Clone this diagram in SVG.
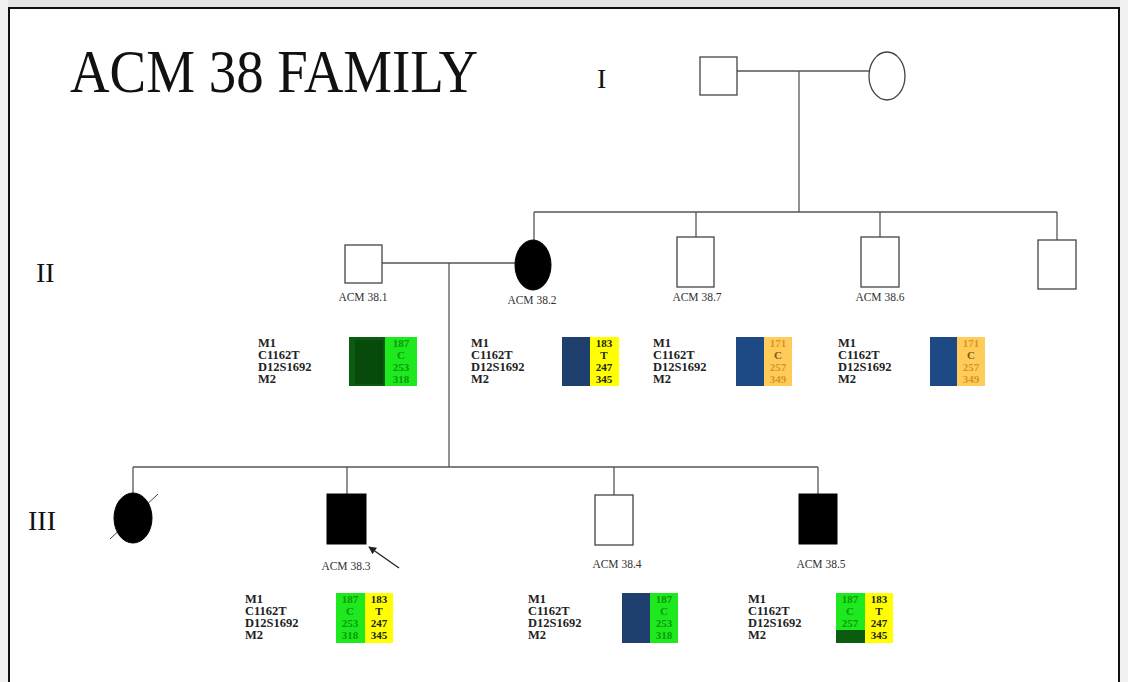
<svg xmlns="http://www.w3.org/2000/svg" width="1128" height="682" viewBox="0 0 1128 682">
<defs>
<style>
.ln{stroke:#555;stroke-width:1.3;fill:none}
.open{fill:#fff;stroke:#444;stroke-width:1.3}
.aff{fill:#000;stroke:#000;stroke-width:1}
.nm{font-family:"Liberation Serif",serif;font-size:11.5px;fill:#333;text-anchor:middle}
.mk{font-family:"Liberation Serif",serif;font-size:12.5px;font-weight:bold;fill:#222}
.v{font-family:"Liberation Serif",serif;font-size:11px;font-weight:bold;text-anchor:middle}
.gen{font-family:"Liberation Serif",serif;font-size:28px;fill:#111}
</style>
<marker id="ah" viewBox="0 0 10 10" refX="9" refY="5" markerWidth="6" markerHeight="6" orient="auto"><path d="M0,0 L10,5 L0,10 z" fill="#222"/></marker>
</defs>
<rect x="0" y="0" width="1128" height="682" fill="#fff"/>
<rect x="0" y="0" width="1128" height="7" fill="#e6e6e6"/>
<rect x="0" y="0" width="8" height="682" fill="#f0f0f0"/>
<rect x="1120" y="0" width="8" height="682" fill="#f0f0f0"/>
<path d="M9,682 V8 H1119 V682" fill="none" stroke="#111" stroke-width="2"/>

<text x="70" y="92" font-family="Liberation Serif,serif" font-size="62" fill="#111" textLength="408" lengthAdjust="spacingAndGlyphs">ACM 38 FAMILY</text>
<text class="gen" x="597" y="88">I</text>
<text class="gen" x="36" y="282">II</text>
<text class="gen" x="28" y="530">III</text>

<g id="connectors">
<path class="ln" d="M737,71 H869"/>
<path class="ln" d="M799,71 V212"/>
<path class="ln" d="M534,212 H1057"/>
<path class="ln" d="M534,212 V240"/>
<path class="ln" d="M696,212 V237"/>
<path class="ln" d="M880,212 V237"/>
<path class="ln" d="M1057,212 V240"/>
<path class="ln" d="M382,263 H515"/>
<path class="ln" d="M449,263 V467"/>
<path class="ln" d="M133,467 H818"/>
<path class="ln" d="M133,467 V493"/>
<path class="ln" d="M347,467 V494"/>
<path class="ln" d="M614,467 V495"/>
<path class="ln" d="M818,467 V494"/>
<path d="M399,568 L369,547" stroke="#222" stroke-width="1.3" marker-end="url(#ah)"/>
</g>

<g id="I-1"><rect class="open" x="700" y="57" width="37" height="38"/></g>
<g id="I-2"><ellipse class="open" cx="887" cy="76" rx="18" ry="24"/></g>

<g id="ACM38-1"><rect class="open" x="345" y="245" width="37" height="38"/><text class="nm" x="363" y="301">ACM 38.1</text></g>
<g id="ACM38-2"><ellipse class="aff" cx="533" cy="265" rx="18" ry="25"/><text class="nm" x="532" y="304">ACM 38.2</text></g>
<g id="ACM38-7"><rect class="open" x="677" y="237" width="37" height="50"/><text class="nm" x="697" y="301">ACM 38.7</text></g>
<g id="ACM38-6"><rect class="open" x="861" y="237" width="38" height="50"/><text class="nm" x="880" y="301">ACM 38.6</text></g>
<g id="II-5"><rect class="open" x="1038" y="240" width="38" height="49"/></g>

<g id="III-1"><path d="M110,539 L158,494" stroke="#444" stroke-width="1"/><ellipse class="aff" cx="133" cy="518" rx="19" ry="25"/></g>
<g id="ACM38-3"><rect class="aff" x="327" y="494" width="39" height="50"/><text class="nm" x="346" y="570">ACM 38.3</text></g>
<g id="ACM38-4"><rect class="open" x="595" y="495" width="38" height="50"/><text class="nm" x="617" y="568">ACM 38.4</text></g>
<g id="ACM38-5"><rect class="aff" x="799" y="494" width="38" height="50"/><text class="nm" x="821" y="568">ACM 38.5</text></g>

<g id="hap-38-1">
<text class="mk" x="258" y="347">M1</text><text class="mk" x="258" y="359">C1162T</text><text class="mk" x="258" y="371">D12S1692</text><text class="mk" x="258" y="383">M2</text>
<rect x="349" y="337" width="36" height="49" fill="#0b5c10"/><rect x="355" y="340" width="28" height="44" fill="#084a0b"/>
<rect x="385" y="337" width="32" height="49" fill="#1ee81e"/>
<g class="v" fill="#0a9a0a"><text x="401" y="347">187</text><text x="401" y="359">C</text><text x="401" y="371">253</text><text x="401" y="383">318</text></g>
</g>
<g id="hap-38-2">
<text class="mk" x="471" y="347">M1</text><text class="mk" x="471" y="359">C1162T</text><text class="mk" x="471" y="371">D12S1692</text><text class="mk" x="471" y="383">M2</text>
<rect x="562" y="337" width="28" height="49" fill="#1f3f6e"/>
<rect x="590" y="337" width="29" height="49" fill="#ffff00"/>
<g class="v" fill="#222"><text x="604" y="347">183</text><text x="604" y="359">T</text><text x="604" y="371">247</text><text x="604" y="383">345</text></g>
</g>
<g id="hap-38-7">
<text class="mk" x="653" y="347">M1</text><text class="mk" x="653" y="359">C1162T</text><text class="mk" x="653" y="371">D12S1692</text><text class="mk" x="653" y="383">M2</text>
<rect x="736" y="337" width="28" height="49" fill="#1d4a84"/>
<rect x="764" y="337" width="28" height="49" fill="#ffcc5c"/>
<g class="v" fill="#d99520"><text x="778" y="347">171</text><text x="778" y="359" fill="#7a5a10">C</text><text x="778" y="371">257</text><text x="778" y="383">349</text></g>
</g>
<g id="hap-38-6">
<text class="mk" x="838" y="347">M1</text><text class="mk" x="838" y="359">C1162T</text><text class="mk" x="838" y="371">D12S1692</text><text class="mk" x="838" y="383">M2</text>
<rect x="930" y="337" width="27" height="49" fill="#1d4a84"/>
<rect x="957" y="337" width="28" height="49" fill="#ffcc5c"/>
<g class="v" fill="#d99520"><text x="971" y="347">171</text><text x="971" y="359" fill="#7a5a10">C</text><text x="971" y="371">257</text><text x="971" y="383">349</text></g>
</g>

<g id="hap-38-3">
<text class="mk" x="245" y="603">M1</text><text class="mk" x="245" y="615">C1162T</text><text class="mk" x="245" y="627">D12S1692</text><text class="mk" x="245" y="639">M2</text>
<rect x="336" y="593" width="29" height="50" fill="#1ee81e"/>
<rect x="365" y="593" width="28" height="50" fill="#ffff00"/>
<g class="v" fill="#0a9a0a"><text x="350" y="603">187</text><text x="350" y="615">C</text><text x="350" y="627">253</text><text x="350" y="639">318</text></g>
<g class="v" fill="#222"><text x="379" y="603">183</text><text x="379" y="615">T</text><text x="379" y="627">247</text><text x="379" y="639">345</text></g>
</g>
<g id="hap-38-4">
<text class="mk" x="528" y="603">M1</text><text class="mk" x="528" y="615">C1162T</text><text class="mk" x="528" y="627">D12S1692</text><text class="mk" x="528" y="639">M2</text>
<rect x="622" y="593" width="28" height="50" fill="#1f3f6e"/>
<rect x="650" y="593" width="28" height="50" fill="#1ee81e"/>
<g class="v" fill="#0a9a0a"><text x="664" y="603">187</text><text x="664" y="615">C</text><text x="664" y="627">253</text><text x="664" y="639">318</text></g>
</g>
<g id="hap-38-5">
<text class="mk" x="748" y="603">M1</text><text class="mk" x="748" y="615">C1162T</text><text class="mk" x="748" y="627">D12S1692</text><text class="mk" x="748" y="639">M2</text>
<rect x="836" y="593" width="29" height="50" fill="#1ee81e"/>
<rect x="836" y="630" width="29" height="13" fill="#0b5c10"/>
<rect x="865" y="593" width="28" height="50" fill="#ffff00"/>
<g class="v" fill="#0a9a0a"><text x="850" y="603">187</text><text x="850" y="615">C</text><text x="850" y="627">257</text></g>
<g class="v" fill="#222"><text x="879" y="603">183</text><text x="879" y="615">T</text><text x="879" y="627">247</text><text x="879" y="639">345</text></g>
</g>
</svg>
